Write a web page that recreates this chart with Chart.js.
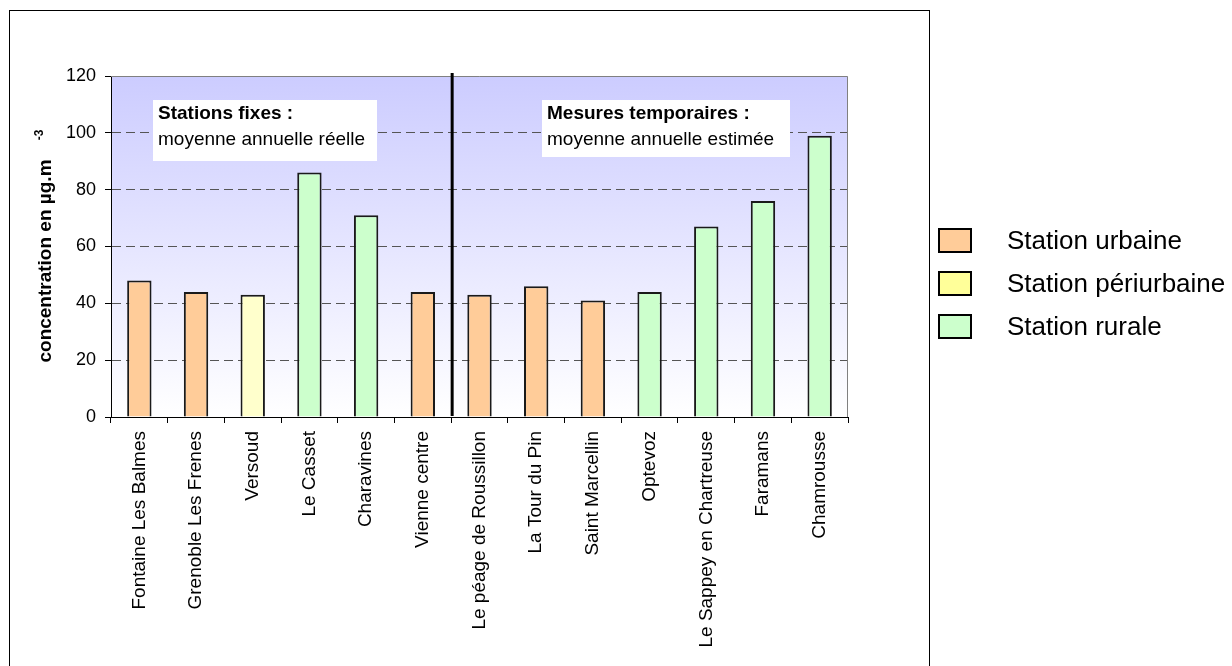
<!DOCTYPE html>
<html>
<head>
<meta charset="utf-8">
<script src="https://cdn.jsdelivr.net/npm/chart.js@4.4.0/dist/chart.umd.min.js"></script>
<style>html,body{margin:0;background:#fff}</style>
</head>
<body>
<canvas id="myChart" width="1232" height="666"></canvas>
<script>
const stations = ['Fontaine Les Balmes', 'Grenoble Les Frenes', 'Versoud', 'Le Casset', 'Charavines', 'Vienne centre',
  'Le péage de Roussillon', 'La Tour du Pin', 'Saint Marcellin', 'Optevoz', 'Le Sappey en Chartreuse', 'Faramans', 'Chamrousse'];
const values = [48, 44, 43, 86, 71, 44, 43, 46, 41, 44, 67, 76, 99];
const types = ['urbaine', 'urbaine', 'periurbaine', 'rurale', 'rurale', 'urbaine',
  'urbaine', 'urbaine', 'urbaine', 'rurale', 'rurale', 'rurale', 'rurale'];
const typeColors = { urbaine: '#FFCC99', periurbaine: '#FFFFCC', rurale: '#CCFFCC' };
const legendLabels = ['Station urbaine', 'Station périurbaine', 'Station rurale'];
const legendColors = ['#FFCC99', '#FFFF99', '#CCFFCC'];
const yMin = 0, yMax = 120, yStep = 20;
const fixedCount = 6; // first stations are fixed ones, the rest temporary

const FONT = "'Liberation Sans', Arial, sans-serif";

const decor = {
  id: 'decor',
  beforeDraw(chart) {
    const { ctx, chartArea: a } = chart;
    const g = ctx.createLinearGradient(0, a.top, 0, a.bottom);
    g.addColorStop(0, '#CCCCFF');
    g.addColorStop(1, '#FFFFFF');
    ctx.save();
    ctx.fillStyle = g;
    ctx.fillRect(a.left, a.top, a.right - a.left, a.bottom - a.top);
    ctx.restore();
  },
  afterDraw(chart) {
    const { ctx, chartArea: a } = chart;
    const xs = chart.scales.x;
    ctx.save();

    // plot outline top / right
    ctx.strokeStyle = '#808080';
    ctx.lineWidth = 1;
    ctx.beginPath();
    ctx.moveTo(a.left, a.top + 0.5);
    ctx.lineTo(a.right - 0.5, a.top + 0.5);
    ctx.lineTo(a.right - 0.5, a.bottom);
    ctx.stroke();

    // separator between fixed and temporary stations
    const sx = (xs.getPixelForValue(fixedCount - 1) + xs.getPixelForValue(fixedCount)) / 2 + 1;
    ctx.strokeStyle = '#000';
    ctx.lineWidth = 3;
    ctx.beginPath();
    ctx.moveTo(sx, a.top - 3);
    ctx.lineTo(sx, a.bottom - 1);
    ctx.stroke();

    // annotation boxes
    const boxes = [
      { x: 153, y: 100, w: 224, h: 61, title: 'Stations fixes :', text: 'moyenne annuelle réelle' },
      { x: 542, y: 100, w: 248, h: 57, title: 'Mesures temporaires :', text: 'moyenne annuelle estimée' }
    ];
    boxes.forEach(b => {
      ctx.fillStyle = '#fff';
      ctx.fillRect(b.x, b.y, b.w, b.h);
      ctx.fillStyle = '#000';
      ctx.textAlign = 'left';
      ctx.textBaseline = 'middle';
      ctx.font = 'bold 19px ' + FONT;
      ctx.fillText(b.title, b.x + 5, 114);
      ctx.font = '19px ' + FONT;
      ctx.fillText(b.text, b.x + 5, 140);
    });

    // y axis title with superscript
    ctx.save();
    ctx.translate(46, 261);
    ctx.rotate(-Math.PI / 2);
    ctx.fillStyle = '#000';
    ctx.textAlign = 'center';
    ctx.textBaseline = 'middle';
    ctx.font = 'bold 19px ' + FONT;
    ctx.fillText('concentration en µg.m', 0, 0);
    ctx.font = 'bold 12px ' + FONT;
    ctx.fillText('-3', 126, -6);
    ctx.restore();

    // legend
    legendLabels.forEach((lab, i) => {
      const y = 228 + i * 43;
      ctx.fillStyle = legendColors[i];
      ctx.fillRect(938, y, 34, 25);
      ctx.strokeStyle = '#000';
      ctx.lineWidth = 2;
      ctx.strokeRect(939, y + 1, 32, 23);
      ctx.fillStyle = '#000';
      ctx.font = '26px ' + FONT;
      ctx.textAlign = 'left';
      ctx.textBaseline = 'middle';
      ctx.fillText(lab, 1007, y + 14);
    });

    // outer frame
    ctx.strokeStyle = '#000';
    ctx.lineWidth = 1;
    ctx.strokeRect(9.5, 10.5, 920, 700);
    ctx.restore();
  }
};

const ctx = document.getElementById('myChart').getContext('2d');
new Chart(ctx, {
  type: 'bar',
  data: {
    labels: stations,
    datasets: [{
      data: values,
      backgroundColor: types.map(t => typeColors[t]),
      borderColor: '#1a1a1a',
      borderWidth: 2,
      barPercentage: 0.43,
      categoryPercentage: 1
    }]
  },
  options: {
    responsive: false,
    animation: false,
    devicePixelRatio: 1,
    layout: { padding: { top: 76, right: 384, left: 0, bottom: 0 } },
    plugins: { legend: { display: false }, tooltip: { enabled: false } },
    scales: {
      x: {
        afterFit(scale) { scale.height = 249; },
        grid: { drawOnChartArea: false, tickLength: 6, tickColor: '#000', offset: true },
        border: { color: '#000', width: 1 },
        ticks: {
          minRotation: 90, maxRotation: 90, autoSkip: false, padding: 8,
          color: '#000', font: { family: FONT, size: 19 }
        }
      },
      y: {
        min: yMin, max: yMax,
        afterFit(scale) { scale.width = 111; },
        grid: {
          color: c => (c.tick && (c.tick.value === yMin || c.tick.value === yMax)) ? 'rgba(0,0,0,0)' : '#555',
          tickColor: '#000', tickLength: 6
        },
        border: { color: '#000', width: 1, dash: [9, 5] },
        ticks: { stepSize: yStep, padding: 9, color: '#000', font: { family: FONT, size: 18 } }
      }
    }
  },
  plugins: [decor]
});
</script>
</body>
</html>
